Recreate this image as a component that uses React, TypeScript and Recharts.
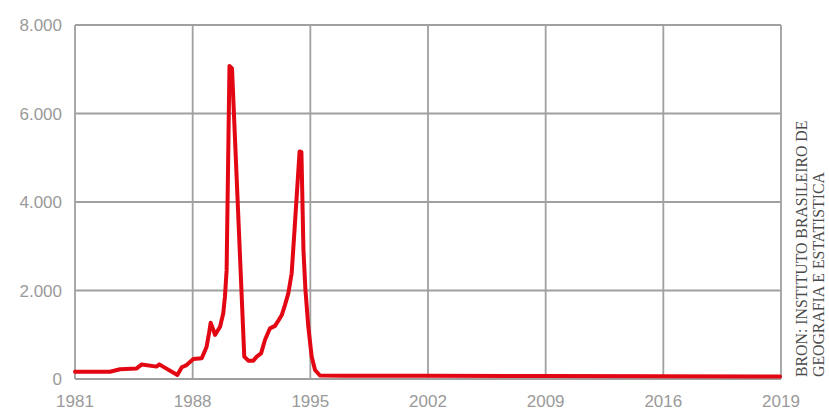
import React from "react";
import { LineChart, Line, XAxis, YAxis, CartesianGrid } from "recharts";

// x positions on the axis (axis years)
const xs = [
  1981.0, 1983.08, 1983.68, 1984.67, 1984.97, 1985.86, 1986.01, 1987.09, 1987.35, 1987.64,
  1988.04, 1988.54, 1988.83, 1988.99, 1989.07, 1989.23, 1989.33, 1989.63, 1989.82, 1989.92,
  1990.02, 1990.19, 1990.34, 1991.07, 1991.31, 1991.61, 1991.81, 1992.07, 1992.3, 1992.6,
  1992.9, 1993.06, 1993.3, 1993.49, 1993.69, 1993.89, 1994.06, 1994.36, 1994.47, 1994.59,
  1994.71, 1994.88, 1995.08, 1995.28, 1995.57, 1997.0, 2002.0, 2009.0, 2016.0, 2022.94,
];
const values = [
  165, 165, 220, 240, 330, 280, 330, 90, 265, 315,
  450, 470, 730, 1070, 1270, 1110, 995, 1180, 1485, 1860,
  2460, 7075, 7020, 505, 415, 415, 505, 580, 880, 1145,
  1200, 1295, 1445, 1670, 1935, 2390, 3370, 5140, 5130, 2915,
  2010, 1180, 505, 203, 80, 76, 73, 68, 62, 55,
];

const xTicks = [1981, 1988, 1995, 2002, 2009, 2016, 2023];
const xTickLabels = ["1981", "1988", "1995", "2002", "2009", "2016", "2019"];
const yTicks = [0, 2000, 4000, 6000, 8000];
const yTickLabels = ["0", "2.000", "4.000", "6.000", "8.000"];
const sourceLines = ["BRON: INSTITUTO BRASILEIRO DE", "GEOGRAFIA E ESTATISTICA"];

const data = xs.map((x, i) => ({ x, v: values[i] }));

const tickStyle = {
  fill: "#9a9a9a",
  fontSize: 17,
  fontFamily: "'Liberation Sans', Arial, sans-serif",
};

export default function App() {
  return (
    <div style={{ position: "absolute", left: 0, top: 0, width: 829, height: 410, background: "#fff" }}>
      <LineChart width={829} height={410} data={data} margin={{ top: 25, right: 48, bottom: 0, left: 0 }}>
        <CartesianGrid stroke="#a0a0a0" strokeWidth={1.8} />
        <XAxis
          dataKey="x"
          type="number"
          domain={[1981, 2023]}
          ticks={xTicks}
          tickFormatter={(v) => xTickLabels[xTicks.indexOf(v)]}
          axisLine={false}
          tickLine={false}
          tickSize={0}
          tickMargin={16}
          height={31}
          tick={tickStyle}
          interval={0}
        />
        <YAxis
          type="number"
          domain={[0, 8000]}
          ticks={yTicks}
          tickFormatter={(v) => yTickLabels[yTicks.indexOf(v)]}
          axisLine={false}
          tickLine={false}
          tickSize={0}
          tickMargin={13}
          width={75}
          tick={tickStyle}
          interval={0}
        />
        <Line
          dataKey="v"
          type="linear"
          stroke="#e30613"
          strokeWidth={4}
          strokeLinejoin="round"
          strokeLinecap="round"
          dot={false}
          activeDot={false}
          isAnimationActive={false}
        />
      </LineChart>
      <svg
        width={829}
        height={410}
        style={{ position: "absolute", left: 0, top: 0, pointerEvents: "none" }}
      >
        {sourceLines.map((t, i) => (
          <text
            key={i}
            transform={`translate(${807 + i * 17}, 377) rotate(-90)`}
            fontFamily="'Liberation Serif', serif"
            fontSize={15.8}
            fill="#4a4a4a"
          >
            {t}
          </text>
        ))}
      </svg>
    </div>
  );
}
